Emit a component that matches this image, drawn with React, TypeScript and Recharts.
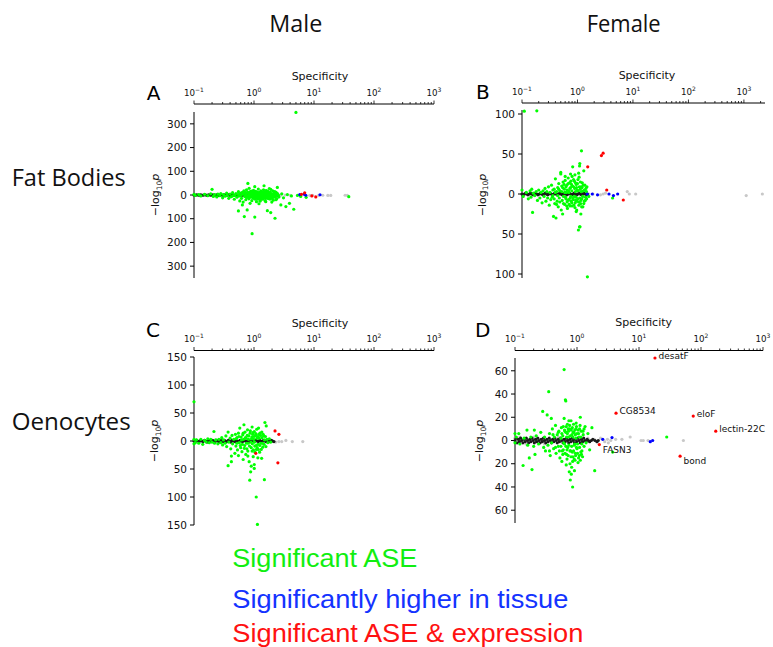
import { ScatterChart, Scatter, XAxis, YAxis } from 'recharts';

type Pt = [number, number];

// ---- tick values ----
const majorTicks = [0.1, 1, 10, 100, 1000];
const minorSteps = [2, 3, 4, 5, 6, 7, 8, 9];

// ---- Panel A: male fat bodies ----
const aNs: Pt[] = [[0.1,0],[0.105,-1],[0.11,1],[0.116,0],[0.122,-1],[0.128,1],[0.135,0],[0.142,-1],[0.15,1],[0.158,0],[0.166,-2],[0.175,1],[0.184,0],[0.194,-1],[0.204,1],[0.215,0],[0.226,-1],[0.238,1],[0.25,0],[0.263,-2],[0.277,1],[0.29,0],[0.305,-1],[0.32,1],[0.337,0],[0.355,-1],[0.373,1],[0.39,0],[0.41,-2],[0.43,1],[0.455,0],[0.48,-1],[0.5,1],[0.53,0],[0.555,-1],[0.585,1],[0.615,0],[0.645,-1],[0.68,1],[0.715,0],[0.75,-1],[0.79,1],[0.83,0],[0.87,-1],[0.92,1],[0.97,0],[1.02,-1],[1.07,1],[1.12,0],[1.18,-1],[1.24,1],[1.3,0],[1.37,-1],[1.44,1],[1.51,0],[1.59,-1],[1.67,1],[1.76,0],[1.85,-1],[1.95,1],[2.05,0],[2.15,-1],[2.26,1],[2.38,0],[2.5,-1]];
const aLight: Pt[] = [[2.8,-1],[3.3,0],[4.0,-1],[8.5,-2],[9.5,-1],[12,-2],[14,-1],[17,-2],[19,-2],[33,-1],[36,-2]];
const aGreen: Pt[] = [[0.1,3],[0.105,-2],[0.12,2],[0.13,-4],[0.15,3],[0.17,-3],[0.19,5],[0.2,24],[0.21,-6],[0.22,2],[0.24,-8],[0.25,4],[0.27,-3],[0.28,6],[0.3,-12],[0.31,2],[0.33,-5],[0.35,8],[0.36,-2],[0.38,-14],[0.4,4],[0.42,-7],[0.44,10],[0.45,-3],[0.47,-18],[0.5,6],[0.52,-9],[0.55,-67],[0.55,14],[0.57,-4],[0.58,-25],[0.6,8],[0.62,-14],[0.63,3],[0.64,11],[0.64,-42],[0.66,-30],[0.68,18],[0.69,-91],[0.7,-6],[0.72,5],[0.73,-20],[0.75,-11],[0.75,22],[0.77,-63],[0.78,12],[0.79,49],[0.8,-3],[0.82,-16],[0.83,28],[0.85,7],[0.86,-35],[0.88,-8],[0.9,16],[0.92,-24],[0.93,-163],[0.94,4],[0.96,-12],[0.98,20],[1.0,-5],[1.03,35],[1.03,-93],[1.05,-18],[1.08,9],[1.1,-28],[1.12,13],[1.15,-4],[1.18,25],[1.2,-10],[1.21,-37],[1.25,6],[1.28,-20],[1.3,17],[1.33,-7],[1.36,11],[1.4,-14],[1.44,22],[1.47,39],[1.5,-3],[1.53,-24],[1.57,-28],[1.6,9],[1.63,-12],[1.67,-66],[1.7,15],[1.75,-6],[1.8,27],[1.85,-17],[1.9,-74],[1.9,24],[1.95,4],[2.0,-10],[2.05,18],[2.1,-22],[2.18,7],[2.24,-98],[2.25,-4],[2.3,12],[2.4,-15],[2.45,32],[2.5,3],[2.6,-8],[2.8,-42],[2.9,5],[3.1,-12],[3.4,-49],[3.6,2],[3.9,-35],[4.2,-4],[4.6,-60],[5.0,348],[5.3,-2],[6.0,-6],[7.4,-10],[38,-7],[0.84,2],[0.87,-1],[0.91,5],[0.97,-2],[1.02,3],[1.07,-1],[1.13,2],[1.23,-2],[1.32,1],[1.42,-1],[1.55,2],[1.65,-2],[1.78,1],[1.88,-1],[2.0,2],[2.15,-2],[2.35,1],[0.95,-9],[1.17,-12],[1.38,6],[1.72,-9],[2.2,14],[0.89,10],[1.26,-26],[1.58,19],[1.98,-30]];
const aGreenCore: Pt[] = [[0.66,4],[0.7,12],[0.74,-2],[0.76,7],[0.81,-8],[0.83,-12],[0.85,13],[0.88,3],[0.9,-6],[0.93,9],[0.95,14],[0.99,-14],[1.01,8],[1.04,-8],[1.06,15],[1.09,-3],[1.11,-12],[1.14,8],[1.16,-17],[1.19,4],[1.22,11],[1.24,-6],[1.27,-13],[1.29,5],[1.31,-10],[1.34,14],[1.37,-3],[1.39,-18],[1.41,8],[1.46,-8],[1.49,13],[1.52,6],[1.56,-14],[1.61,-5],[1.64,18],[1.68,3],[1.73,-15],[1.77,8],[1.82,-4],[1.87,12],[1.93,-7],[2.02,-15],[2.08,6],[2.13,-5],[2.22,-9],[2.28,3],[2.33,-20],[2.42,8],[2.55,-3],[0.6,-3],[0.55,2],[0.48,-2]];
const aBlue: Pt[] = [[5.8,2],[6.9,3],[7.3,-1],[12.6,1]];
const aRed: Pt[] = [[6.2,3],[7.0,9],[9.2,-4],[10.7,-8]];

// ---- Panel B: female fat bodies ----
const bNs: Pt[] = [[0.1,0],[0.105,-1],[0.11,0],[0.116,1],[0.122,0],[0.128,-1],[0.135,0],[0.142,1],[0.15,0],[0.158,-1],[0.166,0],[0.175,1],[0.184,0],[0.194,-1],[0.204,0],[0.215,1],[0.226,0],[0.238,-1],[0.25,0],[0.263,1],[0.277,0],[0.29,-1],[0.305,0],[0.32,1],[0.337,0],[0.355,-1],[0.373,0],[0.39,1],[0.41,0],[0.43,-1],[0.455,0],[0.48,1],[0.5,0],[0.53,-1],[0.555,0],[0.585,1],[0.615,0],[0.645,-1],[0.68,0],[0.715,1],[0.75,0],[0.79,-1],[0.83,0],[0.87,1],[0.92,0],[0.97,-1],[1.02,0],[1.07,1],[1.12,0],[1.18,-1],[1.24,0],[1.3,1],[1.37,0],[1.44,-1],[1.51,0]];
const bLight: Pt[] = [[1.6,0],[1.9,0],[2.6,-1],[2.9,0],[3.2,1],[7.9,3],[8.6,0],[11.2,0],[1100,-2],[2150,0]];
const bGreen: Pt[] = [[0.11,103.5],[0.185,104],[0.1,5],[0.105,-3],[0.12,2],[0.13,-6],[0.14,4],[0.145,-4],[0.15,6],[0.155,-23],[0.16,1],[0.17,-2],[0.18,3],[0.19,-8],[0.2,5],[0.21,-5],[0.22,2],[0.23,-11],[0.24,4],[0.25,-3],[0.26,7],[0.27,-9],[0.28,3],[0.29,-5],[0.3,9],[0.31,-14],[0.32,2],[0.33,-7],[0.34,11],[0.35,-4],[0.36,-2],[0.37,-28],[0.38,6],[0.39,-12],[0.4,19],[0.41,-30],[0.42,3],[0.43,-9],[0.44,8],[0.45,-16],[0.46,13],[0.47,-5],[0.48,4],[0.5,27],[0.5,25],[0.51,-20],[0.52,10],[0.53,-8],[0.54,-25],[0.55,15],[0.56,-3],[0.58,6],[0.59,-13],[0.6,17],[0.62,-6],[0.63,2],[0.64,11],[0.65,-10],[0.66,-18],[0.68,20],[0.69,4],[0.7,-7],[0.72,14],[0.73,-15],[0.75,8],[0.76,-3],[0.78,12],[0.79,-11],[0.8,22],[0.82,34],[0.83,-5],[0.85,9],[0.86,-14],[0.88,16],[0.9,-17],[0.92,3],[0.93,-8],[0.95,12],[0.97,-20],[0.99,5],[1.02,18],[1.04,-45],[1.05,-10],[1.07,21],[1.09,35],[1.09,-41],[1.1,38],[1.11,-41],[1.12,6],[1.14,-12],[1.16,9],[1.18,54],[1.2,-6],[1.22,14],[1.25,-16],[1.28,4],[1.3,29],[1.33,-9],[1.36,11],[1.4,-4],[1.45,3],[1.48,9],[1.51,-103.5],[1.6,-3],[4.3,-5]];
const bGreenCore: Pt[] = [[0.36,5],[0.38,-6],[0.4,2],[0.42,-13],[0.44,-2],[0.46,6],[0.48,-10],[0.52,3],[0.54,8],[0.56,-12],[0.57,12],[0.59,2],[0.61,-4],[0.62,9],[0.64,-15],[0.65,5],[0.67,-8],[0.68,13],[0.7,2],[0.71,-13],[0.73,7],[0.74,-5],[0.76,16],[0.77,-9],[0.79,4],[0.8,-15],[0.81,10],[0.84,-7],[0.85,18],[0.87,-3],[0.89,7],[0.91,-11],[0.92,14],[0.94,-4],[0.96,8],[0.98,-9],[1.0,13],[1.01,-6],[1.03,4],[1.06,-14],[1.08,9],[1.1,-5],[1.13,15],[1.15,-8],[1.17,3],[1.19,-16],[1.21,8],[1.24,-3],[1.27,11],[1.3,-12],[1.34,5],[1.38,-8],[1.42,7],[1.46,-6],[0.75,25],[0.9,24],[1.05,26],[0.6,22],[0.95,-22],[1.15,-25]];
const bBlue: Pt[] = [[1.5,0],[1.85,0],[2.3,-1],[3.7,0],[4.45,-2],[5.3,0]];
const bRed: Pt[] = [[2.7,48],[2.9,51],[1.53,34],[3.37,5],[6.7,-7.5]];

// ---- Panel C: male oenocytes ----
const cNs: Pt[] = [[0.1,0],[0.105,-1],[0.11,1],[0.116,0],[0.122,-1],[0.128,1],[0.135,0],[0.142,-1],[0.15,1],[0.158,0],[0.166,-2],[0.175,1],[0.184,0],[0.194,-1],[0.204,1],[0.215,0],[0.226,-1],[0.238,1],[0.25,0],[0.263,-2],[0.277,1],[0.29,0],[0.305,-1],[0.32,1],[0.337,0],[0.355,-1],[0.373,1],[0.39,0],[0.41,-2],[0.43,1],[0.455,0],[0.48,-1],[0.5,1],[0.53,0],[0.555,-1],[0.585,1],[0.615,0],[0.645,-1],[0.68,1],[0.715,0],[0.75,-1],[0.79,1],[0.83,0],[0.87,-1],[0.92,1],[0.97,0],[1.02,-1],[1.07,1],[1.12,0],[1.18,-1],[1.24,1],[1.3,0],[1.37,-1],[1.44,1],[1.51,0],[1.59,-1],[1.67,1],[1.76,0],[1.85,-1],[1.95,1],[2.05,0],[2.15,-1]];
const cLight: Pt[] = [[2.0,-1],[2.3,-2],[2.6,-1],[2.9,-1],[3.4,1],[4.35,-1],[6.5,-1]];
const cGreen: Pt[] = [[0.1,70],[0.1,3],[0.1,-5],[0.105,-3],[0.11,2],[0.12,-4],[0.13,3],[0.14,-6],[0.15,1],[0.16,-2],[0.17,4],[0.18,-3],[0.19,3],[0.2,-2],[0.215,17],[0.22,-4],[0.23,2],[0.25,-5],[0.26,3],[0.28,-3],[0.29,6],[0.3,-7],[0.31,2],[0.33,-4],[0.34,9],[0.35,-10],[0.37,16],[0.37,-44],[0.38,-2],[0.4,5],[0.41,-14],[0.42,-37],[0.42,-27],[0.43,10],[0.44,-5],[0.46,3],[0.48,-22],[0.49,12],[0.5,-9],[0.52,6],[0.53,-16],[0.55,-26],[0.55,14],[0.57,-3],[0.58,23],[0.6,-12],[0.61,7],[0.63,-19],[0.65,11],[0.66,-33],[0.67,3],[0.68,29],[0.7,-8],[0.71,16],[0.73,-24],[0.74,5],[0.76,-14],[0.78,20],[0.8,-4],[0.82,9],[0.83,-37],[0.85,-70],[0.86,14],[0.88,-55],[0.89,-2],[0.9,-45],[0.92,7],[0.93,-18],[0.95,12],[0.97,-28],[0.99,3],[1.01,17],[1.01,-42],[1.01,-49],[1.03,-9],[1.06,10],[1.09,-100],[1.1,-15],[1.12,5],[1.14,-149],[1.16,-6],[1.2,12],[1.24,-20],[1.26,14],[1.3,-4],[1.34,-31],[1.36,6],[1.4,-11],[1.45,9],[1.49,-69],[1.5,2],[1.52,33],[1.6,27],[1.7,-3],[1.8,4],[1.9,-2]];
const cGreenCore: Pt[] = [[0.5,4],[0.52,-4],[0.56,8],[0.59,-8],[0.62,2],[0.64,-6],[0.66,14],[0.69,-13],[0.72,6],[0.75,-4],[0.77,10],[0.79,-18],[0.81,3],[0.84,-9],[0.87,18],[0.9,-12],[0.91,4],[0.94,-5],[0.96,15],[0.98,-16],[1.0,8],[1.02,-2],[1.04,-20],[1.07,13],[1.08,-8],[1.11,21],[1.13,-12],[1.15,8],[1.18,-15],[1.22,5],[1.25,-8],[1.28,10],[1.32,-15],[1.35,16],[1.38,-4],[1.42,12],[1.47,-6],[1.55,8],[1.58,-10],[1.65,3],[0.93,25],[1.19,23],[0.79,-27],[1.16,-30]];
const cRed: Pt[] = [[2.24,18],[2.6,12],[1.07,-22],[2.5,-39]];

// ---- Panel D: female oenocytes ----
const dNs: Pt[] = [[0.1,0],[0.104,2],[0.108,-2],[0.113,1],[0.118,-1],[0.123,2],[0.128,0],[0.134,-2],[0.14,1],[0.146,-1],[0.152,2],[0.159,0],[0.166,-2],[0.173,1],[0.18,-1],[0.188,2],[0.196,0],[0.205,-2],[0.214,1],[0.223,-1],[0.233,2],[0.243,0],[0.254,-2],[0.265,1],[0.276,-1],[0.288,2],[0.3,0],[0.313,-2],[0.327,1],[0.341,-1],[0.356,2],[0.372,0],[0.388,-2],[0.405,1],[0.422,-1],[0.44,2],[0.46,0],[0.48,-2],[0.5,1],[0.52,-1],[0.545,2],[0.57,0],[0.595,-2],[0.62,1],[0.645,-1],[0.675,2],[0.705,0],[0.735,-2],[0.765,1],[0.8,-1],[0.835,2],[0.87,0],[0.91,-2],[0.95,1],[0.99,-1],[1.03,2],[1.08,0],[1.13,-2],[1.18,1],[1.23,-1],[1.28,2],[1.34,0],[1.4,-1],[1.46,1],[1.53,0],[1.6,-1],[1.7,0],[1.8,1],[1.95,0],[2.1,-1],[2.2,0]];
const dLight: Pt[] = [[0.1,2],[0.12,3],[0.15,-3],[0.2,3],[0.3,-3],[0.5,3],[1.5,2],[1.9,1],[2.1,-1],[2.4,2],[2.8,-1],[3.1,1],[3.2,-2],[3.5,0],[4.2,1],[5.3,1],[7.2,3],[10.8,0],[11.7,0],[14,0],[52,0]];
const dGreen: Pt[] = [[0.1,6],[0.1,-2],[0.105,3],[0.115,6],[0.12,-3],[0.135,-21.5],[0.14,2],[0.156,9],[0.16,-4],[0.17,-15],[0.18,3],[0.188,-25],[0.2,-5],[0.205,9],[0.21,-12],[0.22,4],[0.24,-3],[0.26,7],[0.28,25],[0.29,-6],[0.3,3],[0.31,-9],[0.33,22],[0.34,-4],[0.35,42],[0.36,6],[0.37,-13],[0.385,19],[0.39,-2],[0.4,10],[0.42,-7],[0.43,3],[0.45,13],[0.46,-11],[0.48,5],[0.5,-5],[0.51,8],[0.53,-15],[0.55,2],[0.56,11],[0.57,-18],[0.59,4],[0.6,-8],[0.62,19],[0.62,61],[0.63,-3],[0.65,35],[0.66,34],[0.66,7],[0.68,-12],[0.7,14],[0.71,-6],[0.73,3],[0.75,-27],[0.76,10],[0.78,-34],[0.79,-9],[0.8,17],[0.81,-29],[0.83,5],[0.85,-40],[0.86,-14],[0.88,14],[0.9,-4],[0.92,9],[0.94,-11],[0.96,2],[0.98,12],[1.0,-7],[1.04,-19],[1.06,6],[1.09,-13],[1.13,20],[1.13,-17],[1.16,3],[1.2,-9],[1.25,8],[1.3,-5],[1.35,12],[1.4,-2],[1.5,6],[1.6,-8],[1.74,11],[1.93,-26],[3.76,-10],[28,3],[0.58,-9],[0.64,8],[0.69,-16],[0.72,10],[0.77,-20],[0.84,-10],[0.87,7],[0.93,-17],[0.97,15],[1.02,-3],[1.1,10],[1.18,-12],[0.67,-21],[0.74,17],[0.82,-23],[0.91,-26]];
const dGreenCore: Pt[] = [[0.55,-5],[0.57,6],[0.59,-12],[0.6,12],[0.61,-2],[0.63,9],[0.64,-11],[0.66,-5],[0.67,12],[0.68,3],[0.69,-8],[0.7,6],[0.72,-13],[0.73,8],[0.74,-4],[0.76,13],[0.77,-9],[0.78,4],[0.8,-14],[0.81,9],[0.82,-5],[0.84,11],[0.85,-18],[0.86,3],[0.88,-9],[0.89,7],[0.9,-16],[0.92,-3],[0.94,5],[0.95,-13],[0.96,10],[0.98,-6],[1.0,6],[1.02,-11],[1.04,9],[1.06,-15],[1.08,3],[1.1,-6],[1.12,13],[1.15,-10],[1.17,8],[1.2,-3],[1.23,-14],[1.26,5],[1.3,10],[0.45,-6],[0.5,7],[0.52,-9],[0.36,-9],[0.41,5]];
const dBlue: Pt[] = [[2.6,1],[3.67,2.5],[15.2,-1],[16.6,0]];
const dRed: Pt[] = [[18.1,71],[4.26,23.5],[75,21],[173,8],[2.29,-3.5],[46,-13.5]];
const dRedNames = ['desatF', 'CG8534', 'eloF', 'lectin-22C', 'FASN3', 'bond'];

const GREEN = '#00ff00';
const BLUE = '#0000ff';
const RED = '#ff0000';
const DARK = '#1a1a1a';
const LIGHT = '#c8c8c8';
const MPL = 'DejaVu Sans, sans-serif';

const toPts = (arr: Pt[], names?: string[]) =>
  arr.map(([x, y], i) => ({ x, y, name: names ? names[i] : undefined }));

const dot = (fill: string) => (p: any) => <circle cx={p.cx} cy={p.cy} r={1.6} fill={fill} />;

const namedDot = (p: any) => {
  const up = p.payload.y > 0;
  return (
    <g>
      <circle cx={p.cx} cy={p.cy} r={1.6} fill={RED} />
      {p.payload.name && (
        <text x={p.cx + 3.5} y={p.cy + (up ? 1 : 8)} fontSize={9} fontFamily={MPL} fill="#111">
          {p.payload.name}
        </text>
      )}
    </g>
  );
};

function XTick(props: any) {
  const { x, y, payload, gap } = props;
  const v = payload.value;
  const exp = Math.round(Math.log10(v));
  const major = Math.abs(v - Math.pow(10, exp)) < 1e-6 * v;
  const ay = y - gap;
  return (
    <g>
      <line x1={x} x2={x} y1={ay} y2={ay - (major ? 3.5 : 2)} stroke="#000" strokeWidth={0.8} />
      {major && (
        <text x={x} y={ay - 8.5} textAnchor="middle" fontSize={8.7} fontFamily={MPL} fill="#111">
          10<tspan dy={-4} fontSize={6}>{exp < 0 ? '\u2212' + -exp : String(exp)}</tspan>
        </text>
      )}
    </g>
  );
}

interface PanelProps {
  left: number; top: number; width: number; height: number;
  xMax: number; yMax: number; yTicks: number[]; gap: number;
  ns: Pt[]; light: Pt[]; green: Pt[]; blue?: Pt[]; red: Pt[]; redNames?: string[];
}

const ML = 52, MT = 40;

function Panel(p: PanelProps) {
  const xTicks: number[] = [];
  majorTicks.forEach(m => {
    if (m <= p.xMax) xTicks.push(m);
    minorSteps.forEach(s => { if (m * s <= p.xMax) xTicks.push(m * s); });
  });
  return (
    <div style={{ position: 'absolute', left: p.left - ML, top: p.top - MT }}>
      <ScatterChart width={ML + p.width + 14} height={MT + p.height + 6}
        margin={{ top: 10, right: 14, bottom: 6, left: 12 }} style={{ overflow: 'visible' }}>
        <XAxis dataKey="x" type="number" scale="log" domain={[0.1, p.xMax]}
          orientation="top" height={30} ticks={xTicks} interval={0}
          tickSize={0} tickMargin={0} tickLine={false}
          axisLine={{ stroke: '#000', strokeWidth: 1, transform: `translate(0,-${p.gap})` }}
          tick={(t: any) => <XTick {...t} gap={p.gap} />} />
        <YAxis dataKey="y" type="number" domain={[-p.yMax, p.yMax]}
          ticks={p.yTicks} interval={0} width={40} tickSize={4} tickMargin={3}
          tickFormatter={(v: number) => String(Math.abs(v))}
          tick={{ fontSize: 10.5, fill: '#111', fontFamily: MPL }}
          axisLine={{ stroke: '#000' }} tickLine={{ stroke: '#000' }} />
        <Scatter data={toPts(p.light)} fill={LIGHT} shape={dot(LIGHT)} isAnimationActive={false} />
        <Scatter data={toPts(p.ns)} fill={DARK} shape={dot(DARK)} isAnimationActive={false} />
        <Scatter data={toPts(p.green)} fill={GREEN} shape={dot(GREEN)} isAnimationActive={false} />
        {p.blue && <Scatter data={toPts(p.blue)} fill={BLUE} shape={dot(BLUE)} isAnimationActive={false} />}
        <Scatter data={toPts(p.red, p.redNames)} fill={RED} shape={p.redNames ? namedDot : dot(RED)} isAnimationActive={false} />
      </ScatterChart>
    </div>
  );
}

function YLabel({ cx, cy }: { cx: number; cy: number }) {
  return (
    <text x={cy} y={cx + 4} transform={`rotate(-90) translate(${-2 * cy},0)`} textAnchor="middle"
      fontSize={11} fontFamily={MPL} fill="#111">
      {'\u2212log'}<tspan fontSize={7.5} dy={2.5}>10</tspan><tspan dy={-2.5} fontStyle="italic">p</tspan>
    </text>
  );
}

export default function App() {
  return (
    <div style={{ position: 'absolute', left: 0, top: 0, width: 773, height: 647, background: '#fff' }}>
      <svg width={773} height={647} style={{ position: 'absolute', left: 0, top: 0 }}>
        <g fontFamily="Open Sans, sans-serif" fontSize={24} fill="#111">
          <text x={269.3} y={31.7} textLength={53} lengthAdjust="spacingAndGlyphs">Male</text>
          <text x={586.7} y={31.7} textLength={74} lengthAdjust="spacingAndGlyphs">Female</text>
          <text x={11.7} y={186} textLength={114} lengthAdjust="spacingAndGlyphs">Fat Bodies</text>
          <text x={11.7} y={430} textLength={119} lengthAdjust="spacingAndGlyphs">Oenocytes</text>
        </g>
        <g fontFamily={MPL} fontSize={20} fill="#000">
          <text x={146.7} y={100}>A</text>
          <text x={476} y={99}>B</text>
          <text x={146} y={336.7}>C</text>
          <text x={475} y={336.7}>D</text>
        </g>
        <g fontFamily={MPL} fontSize={11} fill="#111" textAnchor="middle">
          <text x={320} y={79.5}>Specificity</text>
          <text x={647} y={79}>Specificity</text>
          <text x={320} y={327}>Specificity</text>
          <text x={643.7} y={326}>Specificity</text>
        </g>
        <YLabel cx={155} cy={195} />
        <YLabel cx={481.7} cy={195} />
        <YLabel cx={154} cy={441} />
        <YLabel cx={479} cy={441} />
        <g fontFamily="Liberation Sans, Arial, sans-serif" fontSize={25.5}>
          <text x={232.3} y={566.7} fill="#11ee11" textLength={185} lengthAdjust="spacingAndGlyphs">Significant ASE</text>
          <text x={232.3} y={608} fill="#1433ff" textLength={336} lengthAdjust="spacingAndGlyphs">Significantly higher in tissue</text>
          <text x={232.3} y={641.5} fill="#ff1111" textLength={351} lengthAdjust="spacingAndGlyphs">Significant ASE &amp; expression</text>
        </g>
      </svg>
      <Panel left={194} top={112} width={240} height={166} xMax={1000} yMax={350} gap={8}
        yTicks={[-300, -200, -100, 0, 100, 200, 300]}
        ns={aNs} light={aLight} green={[...aGreen, ...aGreenCore]} blue={aBlue} red={aRed} />
      <Panel left={522} top={110} width={243} height={168} xMax={2400} yMax={105} gap={7}
        yTicks={[-100, -50, 0, 50, 100]}
        ns={bNs} light={bLight} green={[...bGreen, ...bGreenCore]} blue={bBlue} red={bRed} />
      <Panel left={194} top={357} width={240} height={168} xMax={1000} yMax={150} gap={6.5}
        yTicks={[-150, -100, -50, 0, 50, 100, 150]}
        ns={cNs} light={cLight} green={[...cGreen, ...cGreenCore]} red={cRed} />
      <Panel left={515} top={358} width={248} height={165} xMax={1000} yMax={71} gap={7.5}
        yTicks={[-60, -40, -20, 0, 20, 40, 60]}
        ns={dNs} light={dLight} green={[...dGreen, ...dGreenCore]} blue={dBlue} red={dRed} redNames={dRedNames} />
    </div>
  );
}
